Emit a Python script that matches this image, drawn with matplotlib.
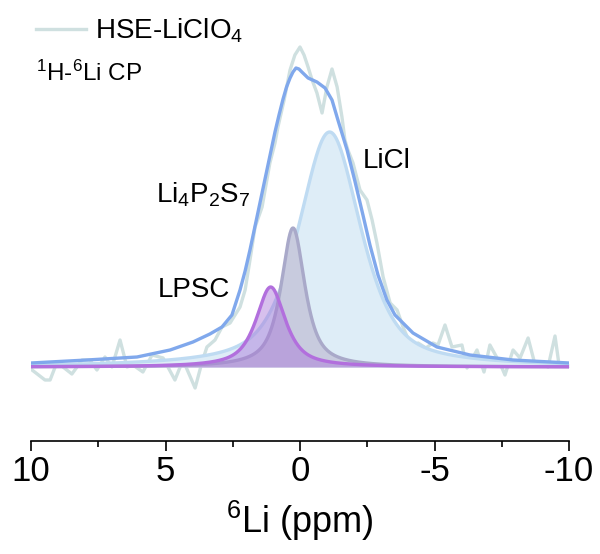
import numpy as np
import matplotlib
matplotlib.use("Agg")
from matplotlib import pyplot as plt

plt.rcParams['font.family'] = ['Liberation Sans', 'DejaVu Sans']
plt.rcParams['mathtext.default'] = 'regular'

# measured 1H-6Li CP spectrum (ppm, intensity a.u.)
shift_ppm = [9.96, 9.48, 9.29, 9.03, 8.81, 8.48, 8.10, 7.81, 7.55, 7.25, 6.99,
             6.69, 6.43, 6.21, 5.84, 5.50, 5.09, 4.65, 4.35, 3.90, 3.64,
             3.46, 3.16, 2.90, 2.60, 2.23, 2.04, 1.86, 1.67, 1.41, 1.12,
             0.93, 0.82, 0.59, 0.37, 0.19, 0.00, -0.15, -0.30, -0.45,
             -0.63, -0.82, -1.00, -1.19, -1.38, -1.56, -1.67, -1.78, -1.97,
             -2.23, -2.49, -2.68, -2.86, -3.09, -3.35, -3.61, -3.83, -4.16,
             -4.39, -4.68, -4.94, -5.13, -5.39, -5.65, -6.02, -6.21, -6.58,
             -6.84, -7.06, -7.43, -7.62, -7.92, -8.18, -8.48, -8.74, -8.96,
             -9.22, -9.48, -9.63]
intensity = [-3, -13, -13, 5, 0, -7, 7, 7, -3, 10, 0, 27, 0, 2, -5, 12,
             9, -13, 7, -21, 5, 20, 27, 40, 44, 60, 77, 107, 140, 160,
             204, 224, 240, 267, 297, 312, 320, 312, 300, 287, 274, 254,
             280, 298, 280, 250, 227, 217, 204, 177, 167, 147, 124, 90, 64,
             57, 40, 19, 24, 19, 24, 22, 42, 20, 22, -1, 17, -5, 22, 4,
             -8, 17, 9, 29, 2, 4, 0, 31, 2]

# cumulative fit curve
fit_ppm = [10.0, 7.92, 6.06, 4.83, 3.98, 3.35, 2.90, 2.53, 2.23, 2.04,
           1.86, 1.56, 1.23, 0.93, 0.78, 0.63, 0.50, 0.37, 0.26, 0.15,
           0.04, -0.07, -0.30, -0.63, -0.93, -1.19, -1.41, -1.75, -2.04,
           -2.34, -2.60, -2.90, -3.23, -3.53, -4.20, -5.09, -6.32, -7.92,
           -10.0]
fit_int = [4, 7, 10, 17, 25, 33, 40, 52, 77, 96, 117, 155, 197, 235, 252,
           268, 280, 289, 295, 299, 298, 295, 289, 285, 279, 267, 247, 217,
           186, 152, 122, 92, 67, 52, 34, 20, 12, 7, 4]

# fitted components: LiCl, Li4P2S7, LPSC
peak_names = ['LiCl', 'Li$_4$P$_2$S$_7$', 'LPSC']
peak_center = [-1.10, 0.26, 1.09]
peak_height = [235, 139, 80]
peak_fwhm = [2.75, 1.05, 1.3]
peak_eta = [0.6, 0.8, 0.8]

line_colors = ['#bfdbf2', '#a9a9c9', '#b26fdd']
fill_colors = ['#deedf7', '#c8cbde', '#a874d8']
fill_alpha = [1.0, 1.0, 0.45]


def pseudo_voigt(x, c, h, w, eta):
    lor = 1.0 / (1.0 + ((x - c) / (w / 2)) ** 2)
    gau = np.exp(-4 * np.log(2) * ((x - c) / w) ** 2)
    return h * (eta * lor + (1 - eta) * gau)


x = np.linspace(10, -10, 1000)
comps = [pseudo_voigt(x, c, h, w, e) for c, h, w, e in
         zip(peak_center, peak_height, peak_fwhm, peak_eta)]

fig = plt.figure(figsize=(6, 5.54), dpi=100)
ax = fig.add_axes([31 / 600, 1 - 441 / 554, 538 / 600, 421 / 554])

ax.plot(shift_ppm, intensity, color='#cfe0e0', lw=2.4, zorder=1,
        label='HSE-LiClO$_4$', solid_joinstyle='round')
for i, comp in enumerate(comps):
    ax.fill_between(x, 0, comp, color=fill_colors[i], alpha=fill_alpha[i],
                    lw=0, zorder=2 + i)
    ax.plot(x, comp, color=line_colors[i], lw=2.4, zorder=2 + i)
ax.plot(fit_ppm, fit_int, color='#80a8ec', lw=2.4, zorder=6,
        solid_joinstyle='round')

# peak labels
ax.text(-2.34, 206, peak_names[0], fontsize=20, ha='left', va='center')
ax.text(1.86, 172, peak_names[1], fontsize=20, ha='right', va='center')
ax.text(2.6, 77, peak_names[2], fontsize=20, ha='right', va='center')
ax.text(9.8, 294, '$^{1}$H-$^{6}$Li CP', fontsize=17.5, ha='left',
        va='center')

ax.legend(loc='upper left', bbox_to_anchor=(-0.011, 1.034), frameon=False,
          fontsize=20, handlelength=1.8, handletextpad=0.3,
          borderaxespad=0)

ax.set_xlim(10, -10)
ax.set_ylim(-74, 347)
ax.set_xticks([10, 5, 0, -5, -10])
ax.set_xticklabels(['10', '5', '0', '-5', '-10'])
ax.set_xticks([7.5, 2.5, -2.5, -7.5], minor=True)
ax.tick_params(axis='x', which='major', length=7, width=1.2, labelsize=25,
               pad=3)
ax.tick_params(axis='x', which='minor', length=4, width=1.2)
ax.set_yticks([])
for side in ['left', 'right', 'top']:
    ax.spines[side].set_visible(False)
ax.spines['bottom'].set_linewidth(1.2)
ax.set_xlabel('$^{6}$Li (ppm)', fontsize=26, labelpad=8)

fig.savefig('out.png', dpi=100)
